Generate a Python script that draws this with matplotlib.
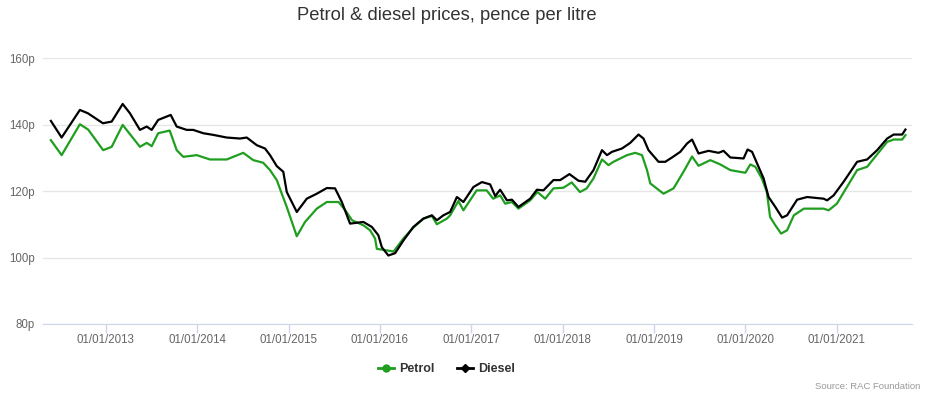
import matplotlib.pyplot as plt
import matplotlib.dates as mdates
import numpy as np
import pandas as pd
from matplotlib.lines import Line2D

plt.rcParams['font.family'] = ['Liberation Sans', 'DejaVu Sans']

# values (pence per litre)
diesel_dates = [
    "2012-05-26", "2012-07-08", "2012-09-19", "2012-10-21", "2012-12-20", "2013-01-24",
    "2013-03-09", "2013-04-07", "2013-05-17", "2013-06-13", "2013-07-03", "2013-07-29",
    "2013-09-07", "2013-09-17", "2013-10-11", "2013-11-20", "2013-12-16", "2014-01-25",
    "2014-03-06", "2014-04-29", "2014-06-21", "2014-07-18", "2014-08-27", "2014-09-29",
    "2014-10-19", "2014-11-15", "2014-12-11", "2014-12-25", "2015-02-03", "2015-03-15",
    "2015-04-24", "2015-06-03", "2015-07-06", "2015-08-02", "2015-09-04", "2015-10-27",
    "2015-11-30", "2015-12-26", "2016-01-09", "2016-02-04", "2016-03-02", "2016-04-04",
    "2016-05-14", "2016-06-23", "2016-07-27", "2016-08-16", "2016-09-11", "2016-10-08",
    "2016-11-04", "2016-11-30", "2017-01-09", "2017-02-12", "2017-03-17", "2017-04-06",
    "2017-04-26", "2017-05-23", "2017-06-12", "2017-07-08", "2017-08-24", "2017-09-20",
    "2017-10-16", "2017-11-25", "2017-12-22", "2018-01-28", "2018-03-05", "2018-04-01",
    "2018-05-04", "2018-06-07", "2018-06-27", "2018-07-17", "2018-08-26", "2018-09-28",
    "2018-10-31", "2018-11-20", "2018-12-10", "2019-01-19", "2019-02-15", "2019-03-14",
    "2019-04-16", "2019-05-13", "2019-06-02", "2019-06-28", "2019-08-07", "2019-09-16",
    "2019-10-06", "2019-11-02", "2019-12-25", "2020-01-10", "2020-01-28", "2020-02-17",
    "2020-03-14", "2020-04-03", "2020-04-30", "2020-05-27", "2020-06-16", "2020-07-26",
    "2020-09-04", "2020-11-09", "2020-11-23", "2020-12-19", "2021-01-28", "2021-03-23",
    "2021-05-02", "2021-06-11", "2021-07-21", "2021-08-16", "2021-09-19", "2021-10-02",
]
diesel_pence = [
    141.1, 136.1, 144.4, 143.4, 140.4, 140.9,
    146.2, 143.4, 138.4, 139.4, 138.4, 141.4,
    142.6, 142.9, 139.4, 138.4, 138.4, 137.4,
    136.9, 136.1, 135.8, 136.1, 133.8, 132.8,
    130.8, 127.5, 125.8, 119.7, 113.7, 117.7,
    119.2, 120.9, 120.8, 116.7, 110.2, 110.7,
    109.2, 106.7, 103.1, 100.6, 101.3, 105.1,
    109.2, 111.7, 112.7, 111.2, 112.7, 113.7,
    118.2, 116.7, 121.2, 122.7, 122.0, 118.5,
    120.4, 117.2, 117.4, 115.2, 117.7, 120.4,
    120.2, 123.3, 123.3, 125.1, 123.1, 122.8,
    126.3, 132.3, 130.8, 131.8, 132.8, 134.5,
    137.0, 135.8, 132.3, 128.8, 128.8, 130.1,
    131.8, 134.3, 135.5, 131.3, 132.1, 131.5,
    132.1, 130.1, 129.8, 132.5, 131.8, 128.3,
    123.8, 118.2, 115.2, 112.0, 112.7, 117.4,
    118.2, 117.7, 117.2, 118.7, 122.8, 128.8,
    129.5, 132.3, 135.8, 137.0, 137.0, 138.5,
]

petrol_dates = [
    "2012-05-26", "2012-07-08", "2012-09-19", "2012-10-22", "2012-12-21", "2013-01-24",
    "2013-03-09", "2013-03-31", "2013-05-17", "2013-06-13", "2013-07-03", "2013-07-29",
    "2013-09-13", "2013-10-11", "2013-11-06", "2013-12-30", "2014-02-21", "2014-04-29",
    "2014-07-04", "2014-08-13", "2014-09-22", "2014-10-19", "2014-11-15", "2014-12-05",
    "2014-12-25", "2015-02-03", "2015-03-08", "2015-04-24", "2015-06-03", "2015-07-20",
    "2015-08-16", "2015-09-12", "2015-10-27", "2015-11-23", "2015-12-13", "2015-12-20",
    "2016-01-16", "2016-02-25", "2016-04-04", "2016-05-14", "2016-06-23", "2016-07-27",
    "2016-08-16", "2016-09-25", "2016-10-08", "2016-11-10", "2016-11-30", "2017-01-22",
    "2017-03-03", "2017-03-29", "2017-04-26", "2017-05-16", "2017-06-12", "2017-07-08",
    "2017-08-24", "2017-09-22", "2017-10-23", "2017-11-25", "2018-01-04", "2018-02-06",
    "2018-03-11", "2018-04-07", "2018-05-04", "2018-06-07", "2018-07-03", "2018-07-23",
    "2018-09-15", "2018-10-18", "2018-11-14", "2018-12-04", "2018-12-17", "2019-02-08",
    "2019-03-20", "2019-04-29", "2019-06-02", "2019-06-28", "2019-08-14", "2019-09-23",
    "2019-11-02", "2020-01-01", "2020-01-21", "2020-02-10", "2020-03-07", "2020-03-27",
    "2020-04-09", "2020-04-30", "2020-05-23", "2020-06-16", "2020-07-13", "2020-08-22",
    "2020-11-09", "2020-11-29", "2021-01-01", "2021-03-23", "2021-05-02", "2021-07-21",
    "2021-08-16", "2021-09-19", "2021-10-02",
]
petrol_pence = [
    135.3, 130.8, 140.1, 138.5, 132.3, 133.3,
    139.9, 137.8, 133.3, 134.5, 133.5, 137.4,
    138.2, 132.3, 130.3, 130.8, 129.5, 129.5,
    131.5, 129.3, 128.5, 126.3, 123.3, 119.2,
    115.2, 106.4, 110.7, 114.7, 116.7, 116.7,
    114.2, 111.2, 109.7, 108.2, 105.7, 102.6,
    102.3, 101.8, 105.7, 109.0, 111.7, 112.5,
    110.0, 111.7, 112.7, 117.0, 114.2, 120.2,
    120.2, 117.7, 118.7, 116.2, 116.7, 114.7,
    117.2, 119.7, 117.7, 120.8, 121.0, 122.6,
    119.7, 120.8, 123.8, 129.5, 127.8, 128.8,
    130.8, 131.5, 130.8, 126.3, 122.3, 119.2,
    120.8, 125.8, 130.4, 127.6, 129.3, 128.0,
    126.3, 125.5, 128.0, 127.3, 123.8, 119.7,
    112.2, 109.7, 107.2, 108.2, 112.7, 114.7,
    114.7, 114.2, 116.2, 126.3, 127.3, 134.8,
    135.5, 135.5, 136.8,
]

y_ticks = [80, 100, 120, 140, 160]
x_ticks = ["2013-01-01", "2014-01-01", "2015-01-01", "2016-01-01", "2017-01-01",
           "2018-01-01", "2019-01-01", "2020-01-01", "2021-01-01"]

petrol_color = "#1f9e1f"
diesel_color = "#000000"

fig = plt.figure(figsize=(9.32, 3.98), dpi=100)
ax = fig.add_axes([0.046, 0.186, 0.933, 0.668])

ax.plot(pd.to_datetime(petrol_dates), petrol_pence, color=petrol_color, lw=1.6,
        solid_joinstyle="round", zorder=3)
ax.plot(pd.to_datetime(diesel_dates), diesel_pence, color=diesel_color, lw=1.6,
        solid_joinstyle="round", zorder=4)

ax.set_ylim(80, 160)
ax.set_xlim(pd.Timestamp("2012-04-24"), pd.Timestamp("2021-10-30"))
ax.set_yticks(y_ticks)
ax.set_yticklabels(["{}p".format(v) for v in y_ticks])
ax.set_xticks(pd.to_datetime(x_ticks))
ax.xaxis.set_major_formatter(mdates.DateFormatter("%d/%m/%Y"))

ax.grid(axis="y", color="#e6e6e6", lw=1)
ax.set_axisbelow(True)
for side in ["top", "right", "left"]:
    ax.spines[side].set_visible(False)
ax.spines["bottom"].set_color("#ccd6eb")
ax.tick_params(axis="x", colors="#ccd6eb", length=6.5, width=1, labelcolor="#666666",
               labelsize=8.3, pad=1)
ax.tick_params(axis="y", length=0, labelcolor="#666666", labelsize=8.3, pad=6)

fig.text(0.479, 0.962, "Petrol & diesel prices, pence per litre", ha="center", va="center",
         fontsize=13.2, color="#333333")

handles = [Line2D([0], [0], color=petrol_color, lw=2, marker="o", markersize=5),
           Line2D([0], [0], color=diesel_color, lw=2, marker="D", markersize=4)]
leg = fig.legend(handles, ["Petrol", "Diesel"], loc="center", bbox_to_anchor=(0.479, 0.072),
                 ncol=2, frameon=False, handlelength=1.3, handletextpad=0.4,
                 columnspacing=1.8, prop={"weight": "bold", "size": 9})
for t in leg.get_texts():
    t.set_color("#333333")

fig.text(0.988, 0.030, "Source: RAC Foundation", ha="right", va="center",
         fontsize=6.8, color="#999999")

fig.savefig("out.png", dpi=100, facecolor="white")
